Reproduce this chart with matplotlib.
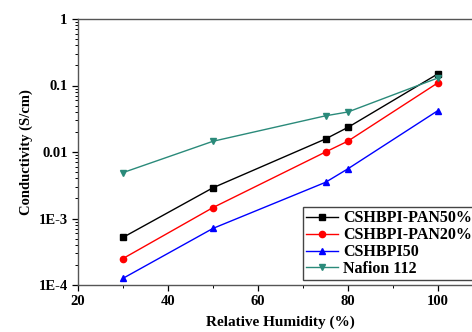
import matplotlib
matplotlib.use("Agg")
import matplotlib.pyplot as plt
from matplotlib.ticker import FixedLocator, LogLocator, NullFormatter, MultipleLocator

plt.rcParams["font.family"] = ["Liberation Serif", "DejaVu Serif"]
plt.rcParams["font.weight"] = "bold"

humidity = [30, 50, 75, 80, 100]
pan50 = [5.2e-4, 2.9e-3, 0.0157, 0.0235, 0.15]
pan20 = [2.5e-4, 1.46e-3, 0.010, 0.0146, 0.11]
pi50 = [1.26e-4, 7.1e-4, 3.5e-3, 5.6e-3, 0.042]
nafion = [4.9e-3, 0.0145, 0.035, 0.040, 0.13]

series = [
    ("CSHBPI-PAN50%", pan50, "#000000", "s"),
    ("CSHBPI-PAN20%", pan20, "#ff0000", "o"),
    ("CSHBPI50", pi50, "#0000ff", "^"),
    ("Nafion 112", nafion, "#2a8a7a", "v"),
]

y_ticks = [1e-4, 1e-3, 1e-2, 1e-1, 1]
y_tick_labels = ["1E-4", "1E-3", "0.01", "0.1", "1"]
x_ticks = [20, 40, 60, 80, 100]

fig = plt.figure(figsize=(4.72, 3.32), dpi=100)
ax = fig.add_axes([78 / 472, 1 - 285 / 332, 405 / 472, 266 / 332])

for label, values, color, marker in series:
    ax.plot(humidity, values, color=color, marker=marker, markersize=4.5,
            linewidth=1.0, label=label)

ax.set_yscale("log")
ax.set_ylim(1e-4, 1)
ax.set_xlim(20, 110)
ax.yaxis.set_major_locator(FixedLocator(y_ticks))
ax.set_yticklabels(y_tick_labels)
ax.yaxis.set_minor_locator(LogLocator(base=10, subs=range(2, 10)))
ax.yaxis.set_minor_formatter(NullFormatter())
ax.set_xticks(x_ticks)
ax.xaxis.set_minor_locator(MultipleLocator(10))

ax.tick_params(which="major", direction="out", length=4, width=0.9,
               labelsize=10.5)
ax.tick_params(which="minor", direction="out", length=2, width=0.7)
for lbl in ax.get_xticklabels() + ax.get_yticklabels():
    lbl.set_fontweight("bold")
for spine in ax.spines.values():
    spine.set_color("#555555")
    spine.set_linewidth(1.0)

ax.set_xlabel("Relative Humidity (%)", fontsize=11, fontweight="bold",
              labelpad=5)
ax.set_ylabel("Conductivity (S/cm)", fontsize=10.5, fontweight="bold",
              labelpad=4)

ax.legend(loc="upper left", bbox_to_anchor=(303 / 472, 1 - 207 / 332),
          bbox_transform=fig.transFigure, prop={"size": 11.5, "weight": "bold"},
          frameon=True, fancybox=False, edgecolor="#444444", framealpha=1,
          handlelength=2.0, handletextpad=0.3, labelspacing=0.06,
          borderpad=0.2, borderaxespad=0)

fig.savefig("out.png", dpi=100)
